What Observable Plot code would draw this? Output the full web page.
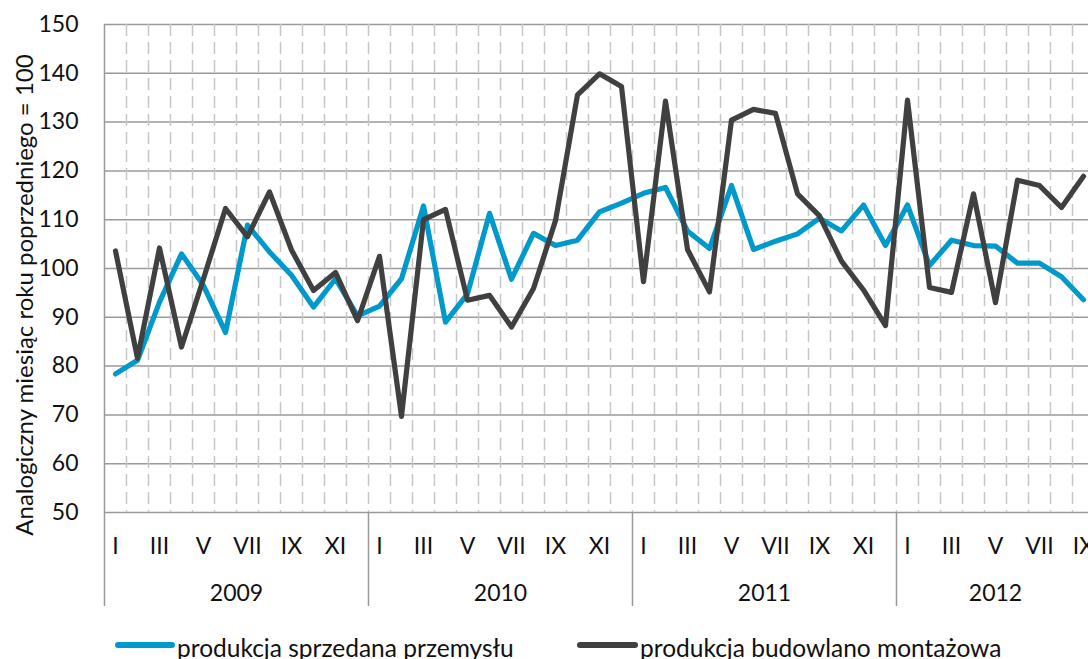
<!DOCTYPE html>
<html><head><meta charset="utf-8">
<script src="https://cdn.jsdelivr.net/npm/d3@7"></script>
<script src="https://cdn.jsdelivr.net/npm/@observablehq/plot@0.6"></script>
<style>
html,body{margin:0;padding:0;background:#fff;overflow:hidden;width:1088px;height:659px;}
#chart{position:relative;width:1100px;}
#chart svg{display:block;}
</style></head><body><div id="chart"></div>
<script>
const monthNames = ["I","II","III","IV","V","VI","VII","VIII","IX","X","XI","XII"];
const years = [2009, 2010, 2011, 2012];
const yTicks = [50, 60, 70, 80, 90, 100, 110, 120, 130, 140, 150];
const seriesNames = ["produkcja sprzedana przemysłu", "produkcja budowlano montażowa"];
const seriesColors = ["#0099cc", "#404040"];
const yTitle = "Analogiczny miesiąc roku poprzedniego = 100";

// produkcja sprzedana przemysłu (I 2009 – IX 2012)
const industry = [
  78.4, 81.2, 93.1, 103.0, 96.5, 86.9, 108.9, 103.4, 98.6, 92.1, 97.9, 90.3,
  92.3, 97.9, 112.8, 89.0, 94.8, 111.3, 97.8, 107.2, 104.7, 105.8, 111.6, 113.4,
  115.4, 116.6, 107.7, 104.1, 117.0, 103.9, 105.6, 107.1, 110.3, 107.7, 113.0, 104.7,
  113.0, 100.6, 105.8, 104.7, 104.6, 101.1, 101.1, 98.3, 93.6
];
// produkcja budowlano montażowa (I 2009 – IX 2012)
const construction = [
  103.6, 81.6, 104.2, 83.9, 97.9, 112.3, 106.5, 115.7, 103.8, 95.5, 99.2, 89.3,
  102.5, 69.7, 110.0, 112.1, 93.5, 94.5, 88.0, 95.9, 109.8, 135.6, 139.9, 137.3,
  97.3, 134.3, 103.9, 95.2, 130.4, 132.6, 131.8, 115.3, 110.8, 101.5, 95.6, 88.3,
  134.5, 96.1, 95.1, 115.3, 93.0, 118.1, 117.0, 112.5, 118.9
];

const rows = industry.map((v, i) => ({
  i,
  year: years[Math.floor(i / 12)],
  month: monthNames[i % 12],
  industry: v,
  construction: construction[i]
}));
const nMonths = rows.length;
const monthLabelRows = rows.filter(d => (d.i % 12) % 2 === 0);
const yearRows = years.map((y, k) => {
  const start = k * 12, end = Math.min(start + 12, nMonths);
  return {year: y, start, end};
});
const yearBounds = yearRows.map(d => d.start).slice(1).concat([nMonths]);

const font = "Lato, 'Open Sans', sans-serif";

const plot = Plot.plot({
  width: 1095, height: 620,
  marginLeft: 104, marginRight: 1, marginTop: 24, marginBottom: 108,
  x: {domain: [0, nMonths], axis: null},
  y: {domain: [50, 150], axis: null},
  style: {fontFamily: font, fontSize: "23px", color: "#000", background: "#fff", overflow: "visible"},
  marks: [
    Plot.ruleY(yTicks, {stroke: "#9a9a9a", strokeWidth: 1.5}),
    Plot.ruleX(d3.range(1, nMonths), {stroke: "#c6c6c6", strokeWidth: 1.5, strokeDasharray: "12,6"}),
    Plot.ruleX([0], {stroke: "#9a9a9a", strokeWidth: 1.5, insetBottom: -94}),
    Plot.ruleX(yearBounds, {stroke: "#9a9a9a", strokeWidth: 1.5, insetTop: 488, insetBottom: -94}),
    Plot.text(yTicks, {y: d => d, frameAnchor: "left", dx: -26, textAnchor: "end", lineAnchor: "middle", fill: "#111"}),
    Plot.text(monthLabelRows, {x: d => d.i + 0.5, frameAnchor: "bottom", dy: 34, lineAnchor: "middle", text: "month", fill: "#111"}),
    Plot.text(yearRows, {x: d => (d.start + d.end) / 2, frameAnchor: "bottom", dy: 81, lineAnchor: "middle", text: d => String(d.year), fill: "#111"}),
    Plot.line(rows, {x: d => d.i + 0.5, y: "industry", stroke: seriesColors[0], strokeWidth: 5.2, strokeLinejoin: "round", strokeLinecap: "round"}),
    Plot.line(rows, {x: d => d.i + 0.5, y: "construction", stroke: seriesColors[1], strokeWidth: 5.2, strokeLinejoin: "round", strokeLinecap: "round"})
  ]
});
document.getElementById("chart").appendChild(plot);

// y-axis title
d3.select(plot).append("text")
  .attr("transform", "translate(25,295) rotate(-90)")
  .attr("text-anchor", "middle")
  .attr("dy", "0.32em")
  .attr("fill", "#111")
  .style("font-size", "24px")
  .text(yTitle);

// legend below the chart
const legend = d3.select("#chart").append("svg")
  .attr("width", 1088).attr("height", 39)
  .style("font-family", font).style("font-size", "24.5px");
const legendItems = [{x: 118, w: 54}, {x: 580, w: 55}];
seriesNames.forEach((name, k) => {
  const it = legendItems[k];
  legend.append("line")
    .attr("x1", it.x).attr("x2", it.x + it.w)
    .attr("y1", 25).attr("y2", 25)
    .attr("stroke", seriesColors[k]).attr("stroke-width", 6).attr("stroke-linecap", "round");
  legend.append("text")
    .attr("x", it.x + it.w + 5).attr("y", 37)
    .attr("fill", "#111")
    .text(name);
});
</script>
</body></html>
